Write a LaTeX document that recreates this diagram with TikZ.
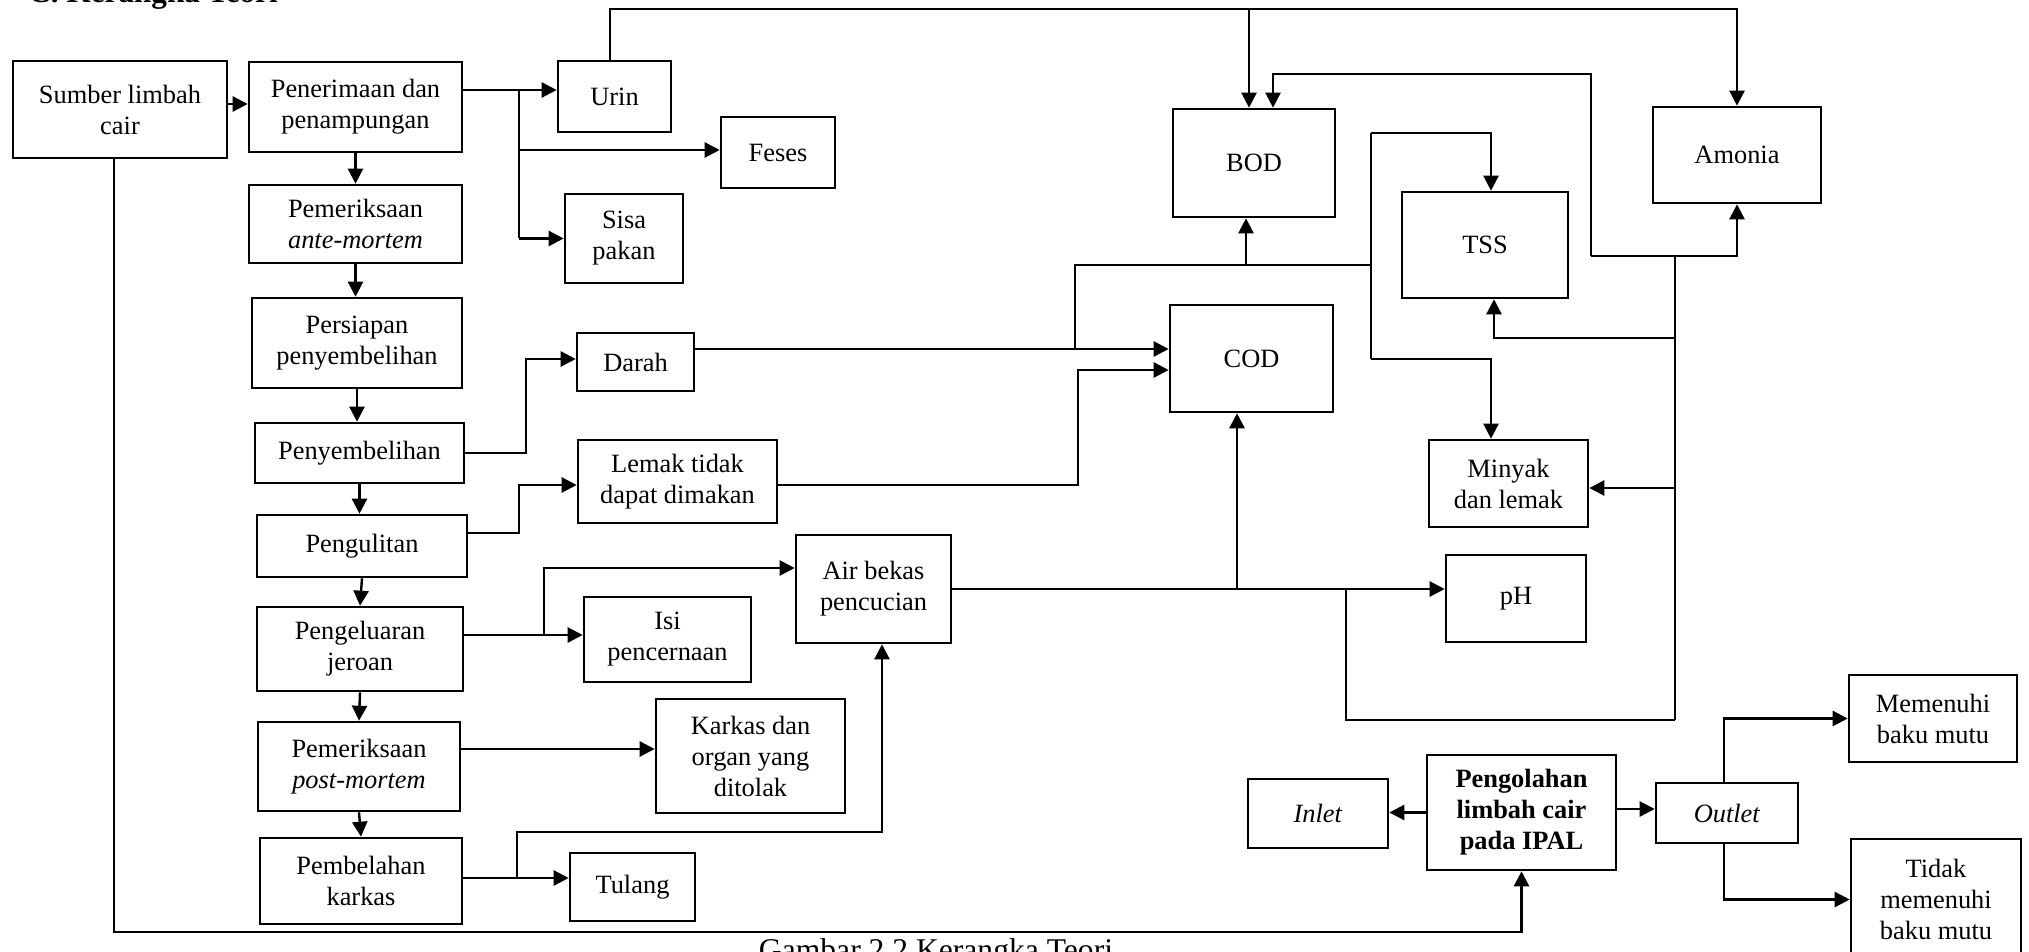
\documentclass[tikz,border=0pt]{standalone}
\usepackage{fontspec}
\setmainfont{Liberation Serif}
\usetikzlibrary{arrows.meta}
\tikzset{
  bx/.style={draw, line width=1.3pt, inner sep=0pt, align=center, font=\fontsize{13.2pt}{15.5pt}\selectfont},
  ln/.style={line width=1.2pt},
  arr/.style={ln, -{Triangle[length=7.5pt,width=7.5pt]}},
}
\newcommand\mybox[6]{\node[bx, minimum width={(#4-#2)*0.5pt}, minimum height={(#5-#3)*0.5pt}] (#1) at ({(#2+#4)/2},{(#3+#5)/2}) {#6};}
\begin{document}
\begin{tikzpicture}[x=0.5pt, y=-0.5pt]
\useasboundingbox (0,0) rectangle (2029,952);
% header and caption (cut by the page edge)
\node[anchor=base west, inner sep=0pt, font=\bfseries\fontsize{15.6pt}{18pt}\selectfont] (hdr) at (28,3) {C. Kerangka Teori};
\node[anchor=base, inner sep=0pt, font=\fontsize{15.8pt}{18pt}\selectfont] (cap) at (936,960) {Gambar 2.2 Kerangka Teori};
% left column
\mybox{sumber}{13}{61}{227}{158}{Sumber limbah\\cair}
\mybox{terima}{249}{62}{462}{152}{Penerimaan dan\\penampungan}
\mybox{ante}{249}{185}{462}{263}{Pemeriksaan\\\textit{ante-mortem}}
\mybox{persiapan}{252}{298}{462}{388}{Persiapan\\penyembelihan}
\mybox{sembelih}{255}{423}{464}{483}{Penyembelihan}
\mybox{kulit}{257}{515}{467}{577}{Pengulitan}
\mybox{jeroan}{257}{607}{463}{691}{Pengeluaran\\jeroan}
\mybox{post}{258}{722}{460}{811}{Pemeriksaan\\\textit{post-mortem}}
\mybox{belah}{260}{838}{462}{924}{Pembelahan\\karkas}
% outputs
\mybox{urin}{558}{61}{671}{132}{Urin}
\mybox{feses}{721}{117}{835}{188}{Feses}
\mybox{sisa}{565}{194}{683}{283}{Sisa\\pakan}
\mybox{darah}{577}{333}{694}{391}{Darah}
\mybox{lemak}{578}{440}{777}{523}{Lemak tidak\\dapat dimakan}
\mybox{air}{796}{535}{951}{643}{Air bekas\\pencucian}
\mybox{isi}{584}{597}{751}{682}{Isi\\pencernaan}
\mybox{karkas}{656}{699}{845}{813}{Karkas dan\\organ yang\\ditolak}
\mybox{tulang}{570}{853}{695}{921}{Tulang}
% parameters
\mybox{bod}{1173}{109}{1335}{217}{BOD}
\mybox{cod}{1170}{305}{1333}{412}{COD}
\mybox{tss}{1402}{192}{1568}{298}{TSS}
\mybox{amonia}{1653}{107}{1821}{203}{Amonia}
\mybox{minyak}{1429}{440}{1588}{527}{Minyak\\dan lemak}
\mybox{ph}{1446}{555}{1586}{642}{pH}
% IPAL
\mybox{inlet}{1248}{779}{1388}{848}{\textit{Inlet}}
\mybox{ipal}{1427}{755}{1616}{870}{\textbf{Pengolahan}\\\textbf{limbah cair}\\\textbf{pada IPAL}}
\mybox{outlet}{1656}{783}{1798}{843}{\textit{Outlet}}
\mybox{memenuhi}{1849}{675}{2017}{762}{Memenuhi\\baku mutu}
\mybox{tidak}{1851}{839}{2021}{960}{Tidak\\memenuhi\\baku mutu}

% junction coordinates
\coordinate (fTop) at (519,90);
\coordinate (tB) at (1249,9);
\coordinate (eTop) at (1591,74);
\coordinate (eCorner) at (1591,256);
\coordinate (vR) at (1675,256);
\coordinate (vB) at (1675,720);
\coordinate (phJ) at (1346,589);
\coordinate (dK) at (526,359);
\coordinate (gJ) at (1075,349);
\coordinate (gT) at (1075,265);
\coordinate (gR) at (1371,265);
\coordinate (tT) at (1371,133);
\coordinate (tB2) at (1371,359);
\coordinate (lK) at (519,485);
\coordinate (cK) at (1078,485);
\coordinate (aK) at (544,568);
\coordinate (bK) at (517,832);
\coordinate (cJ) at (1237,589);
\coordinate (nB) at (114,932);

% main chain
\draw[arr] (sumber.east |- 0,104) -- (terima.west |- 0,104);
\draw[arr] (terima.south) -- (ante.north -| terima.south);
\draw[arr] (ante.south) -- (persiapan.north -| ante.south);
\draw[arr] (persiapan.south) -- (sembelih.north -| persiapan.south);
\draw[arr] (sembelih.south) -- (kulit.north -| sembelih.south);
\draw[arr] (kulit.south) -- (jeroan.north);
\draw[arr] (jeroan.south) -- (post.north);
\draw[arr] (post.south) -- (belah.north);

% Penerimaan outputs
\draw[arr] (terima.east |- fTop) -- (urin.west |- fTop);
\draw[ln] (fTop) -- (fTop |- sisa.west);
\draw[arr] (fTop |- 0,150) -- (feses.west |- 0,150);
\draw[arr] (fTop |- sisa.west) -- (sisa.west);

% Urin to BOD and Amonia
\draw[arr] (urin.north -| 610,0) -- (610,9) -- (amonia.north |- tB) -- (amonia.north);
\draw[arr] (tB) -- (bod.north -| tB);

% Air bekas return network
\draw[arr] (eCorner) -- (eTop) -| (bod.north -| 1273,0);
\draw[arr] (eCorner) -| (amonia.south);
\draw[ln] (vR) -- (vB);
\draw[arr] (vR |- 0,338) -| (tss.south -| 1494,0);
\draw[arr] (vR |- 0,488) -- (minyak.east |- 0,488);
\draw[ln] (vB) -| (phJ);

% Darah
\draw[arr] (sembelih.east) -| (dK) -- (darah.west |- dK);
\draw[arr] (darah.east |- gJ) -- (cod.west |- gJ);
\draw[ln] (gJ) -- (gT) -- (gR);
\draw[arr] (gT -| 1246,0) -- (bod.south -| 1246,0);
\draw[ln] (tT) -- (tB2);
\draw[arr] (tT) -| (tss.north -| 1491,0);
\draw[arr] (tB2) -| (minyak.north -| 1491,0);

% Lemak
\draw[arr] (kulit.east |- 0,533) -| (lK) -- (lemak.west |- lK);
\draw[arr] (lemak.east |- cK) -- (cK) |- (cod.west |- 0,370);

% Jeroan
\draw[arr] (jeroan.east |- 0,635) -- (isi.west |- 0,635);
\draw[arr] (aK |- 0,635) -- (aK) -- (air.west |- aK);

% Post-mortem
\draw[arr] (post.east |- 0,749) -- (karkas.west |- 0,749);

% Pembelahan
\draw[arr] (belah.east |- 0,878) -- (tulang.west |- 0,878);
\draw[arr] (bK |- 0,878) -- (bK) -| (air.south -| 882,0);

% Air bekas
\draw[arr] (air.east) -- (ph.west |- air.east);
\draw[arr] (cJ) -- (cod.south -| cJ);

% Sumber to IPAL
\draw[arr] (sumber.south -| nB) -- (nB) -| (ipal.south);
\draw[arr] (ipal.west) -- (inlet.east |- ipal.west);
\draw[arr] (ipal.east |- 0,809) -- (outlet.west |- 0,809);
\draw[arr] (outlet.north -| 1724,0) |- (memenuhi.west);
\draw[arr] (outlet.south -| 1724,0) |- (tidak.west);
\end{tikzpicture}
\end{document}
